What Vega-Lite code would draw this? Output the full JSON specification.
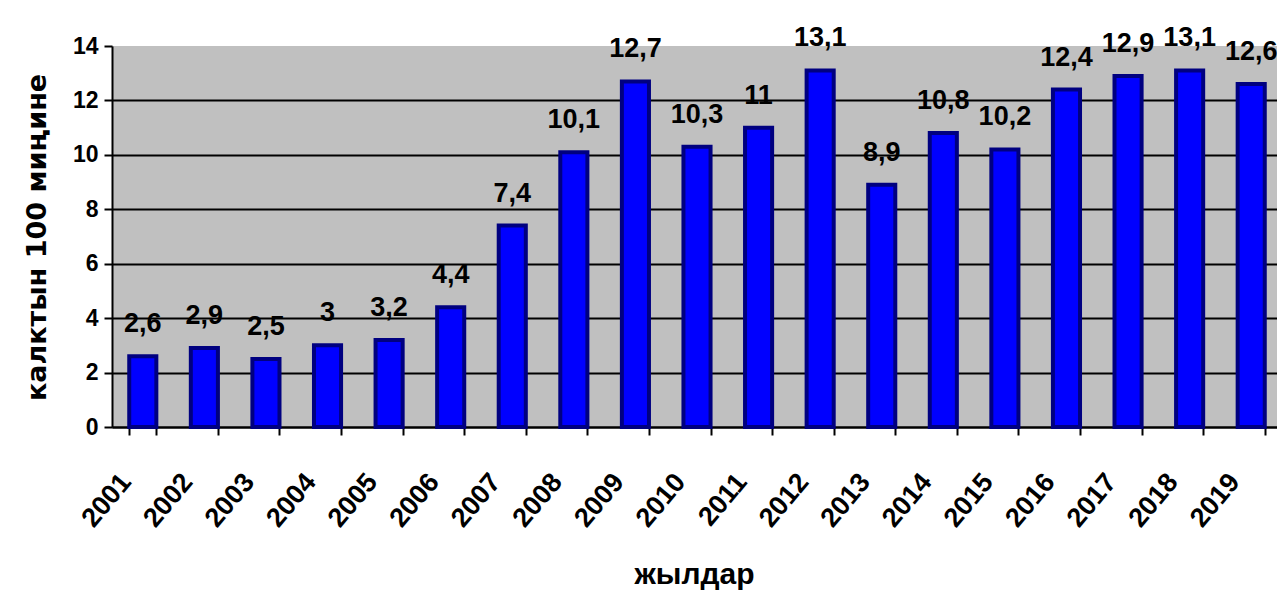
{
  "$schema": "https://vega.github.io/schema/vega-lite/v6.json",
  "width": 1170,
  "height": 381,
  "autosize": {"type": "none"},
  "padding": {"left": 112, "top": 46, "right": 0, "bottom": 163},
  "background": "white",
  "config": {
    "view": {"stroke": null, "fill": "#C0C0C0"},
    "axis": {"domainColor": "black", "tickColor": "black", "labelColor": "black", "titleColor": "black"}
  },
  "data": {
    "values": [
      {"year": "2001", "value": 2.6, "label": "2,6"},
      {"year": "2002", "value": 2.9, "label": "2,9"},
      {"year": "2003", "value": 2.5, "label": "2,5"},
      {"year": "2004", "value": 3.0, "label": "3"},
      {"year": "2005", "value": 3.2, "label": "3,2"},
      {"year": "2006", "value": 4.4, "label": "4,4"},
      {"year": "2007", "value": 7.4, "label": "7,4"},
      {"year": "2008", "value": 10.1, "label": "10,1"},
      {"year": "2009", "value": 12.7, "label": "12,7"},
      {"year": "2010", "value": 10.3, "label": "10,3"},
      {"year": "2011", "value": 11.0, "label": "11"},
      {"year": "2012", "value": 13.1, "label": "13,1"},
      {"year": "2013", "value": 8.9, "label": "8,9"},
      {"year": "2014", "value": 10.8, "label": "10,8"},
      {"year": "2015", "value": 10.2, "label": "10,2"},
      {"year": "2016", "value": 12.4, "label": "12,4"},
      {"year": "2017", "value": 12.9, "label": "12,9"},
      {"year": "2018", "value": 13.1, "label": "13,1"},
      {"year": "2019", "value": 12.6, "label": "12,6"}
    ]
  },
  "encoding": {
    "x": {
      "field": "year",
      "type": "ordinal",
      "scale": {"paddingInner": 0.56, "paddingOuter": 0.28},
      "axis": {
        "title": "жылдар",
        "titleFont": "Liberation Sans",
        "titleFontSize": 30,
        "titleFontWeight": "bold",
        "titleX": 582,
        "titleY": 156,
        "titleBaseline": "alphabetic",
        "titleAnchor": "start",
        "titleAlign": "center",
        "labelAngle": -50,
        "labelAlign": "right",
        "labelBaseline": "middle",
        "labelFont": "Liberation Sans",
        "labelFontSize": 27,
        "labelFontWeight": "bold",
        "labelPadding": 42,
        "labelOffset": -17,
        "tickBand": "extent",
        "tickSize": 8,
        "tickWidth": 2,
        "domainWidth": 2,
        "grid": false
      }
    },
    "y": {
      "field": "value",
      "type": "quantitative",
      "scale": {"domain": [0, 14], "nice": false},
      "axis": {
        "title": "калктын 100 миңине",
        "titleFont": "DejaVu Sans",
        "titleFontSize": 27,
        "titleFontWeight": "bold",
        "titleAngle": -90,
        "titleX": -75,
        "titleY": 191,
        "titleAlign": "center",
        "titleBaseline": "middle",
        "values": [0, 2, 4, 6, 8, 10, 12, 14],
        "labelFont": "Liberation Sans",
        "labelFontSize": 23,
        "labelFontWeight": "bold",
        "labelPadding": 6,
        "tickSize": 8,
        "tickWidth": 2,
        "domainWidth": 2,
        "grid": true,
        "gridWidth": 2,
        "gridColor": {"condition": {"test": "datum.value == 14", "value": "transparent"}, "value": "black"}
      }
    }
  },
  "layer": [
    {
      "mark": {"type": "bar", "fill": "#0000FF", "stroke": "#000080", "strokeWidth": 4}
    },
    {
      "mark": {
        "type": "text",
        "baseline": "alphabetic",
        "dy": -24,
        "font": "Liberation Sans",
        "fontSize": 27,
        "fontWeight": "bold",
        "fill": "black"
      },
      "encoding": {"text": {"field": "label"}}
    }
  ]
}
